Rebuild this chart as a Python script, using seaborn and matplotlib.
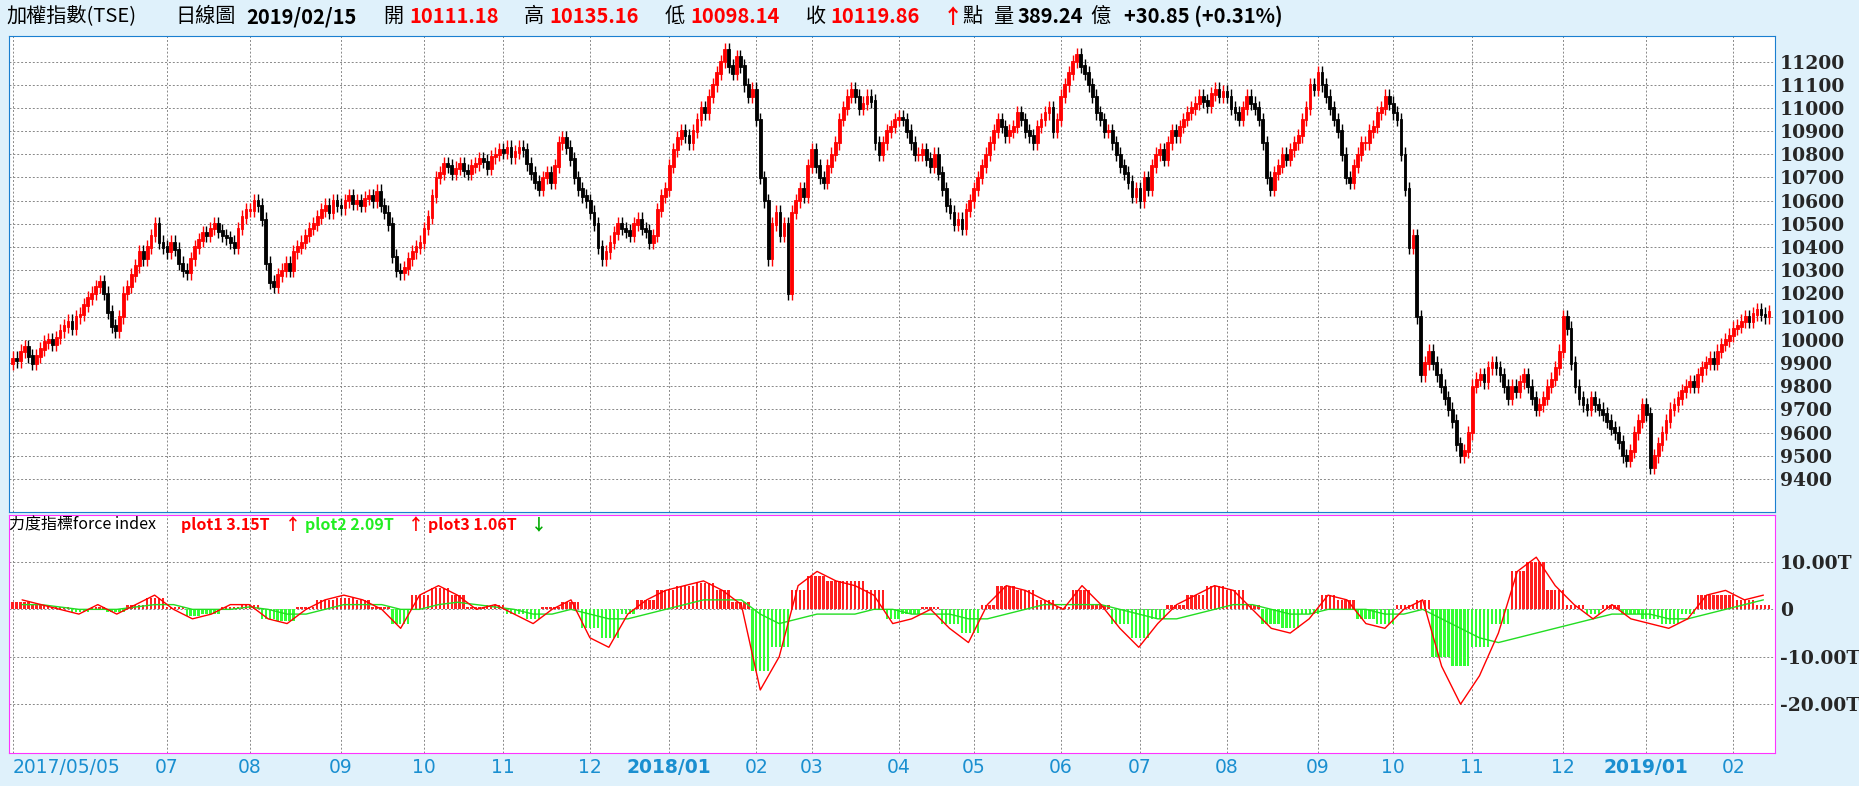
import numpy as np
import pandas as pd
import matplotlib
matplotlib.use("Agg")
import matplotlib.pyplot as plt
import seaborn as sns

# ---------------------------------------------------------------------------
# Data
# ---------------------------------------------------------------------------
month_names = ["2017/05/05", "06", "07", "08", "09", "10", "11", "12", "2018/01", "02", "03", "04",
               "05", "06", "07", "08", "09", "10", "11", "12", "2019/01", "02"]
month_closes = [
    [9920, 9910, 9950, 9970, 9930, 9900, 9930, 9960, 9990, 10000, 9980, 10010, 10040, 10060, 10080, 10050, 10100, 10110],
    [10150, 10180, 10200, 10230, 10250, 10200, 10120, 10060, 10040, 10100, 10200, 10230, 10280, 10320, 10380, 10350, 10400, 10450, 10500, 10420, 10400],
    [10380, 10420, 10390, 10330, 10300, 10290, 10350, 10400, 10430, 10460, 10450, 10480, 10500, 10470, 10450, 10440, 10420, 10400, 10480, 10530, 10560],
    [10560, 10600, 10580, 10520, 10330, 10250, 10230, 10280, 10300, 10330, 10300, 10380, 10400, 10420, 10450, 10480, 10500, 10530, 10560, 10580, 10550, 10600, 10580],
    [10570, 10600, 10620, 10590, 10600, 10580, 10610, 10620, 10600, 10640, 10580, 10550, 10500, 10360, 10300, 10290, 10310, 10350, 10380, 10400, 10420],
    [10480, 10530, 10620, 10700, 10720, 10760, 10750, 10720, 10740, 10760, 10730, 10720, 10750, 10760, 10780, 10770, 10740, 10790, 10800, 10820],
    [10810, 10830, 10790, 10810, 10830, 10820, 10760, 10720, 10680, 10650, 10700, 10720, 10680, 10750, 10850, 10870, 10830, 10780, 10700, 10650, 10620, 10600],
    [10550, 10500, 10400, 10350, 10380, 10420, 10460, 10500, 10480, 10470, 10450, 10500, 10520, 10480, 10470, 10420, 10450, 10560, 10620, 10650],
    [10750, 10820, 10870, 10900, 10880, 10850, 10900, 10950, 11000, 10980, 11050, 11100, 11150, 11200, 11250, 11180, 11150, 11220, 11180, 11100, 11050, 11080],
    [10950, 10700, 10600, 10350, 10500, 10550, 10450, 10500, 10200, 10550, 10600, 10650, 10620, 10750],
    [10820, 10750, 10700, 10680, 10750, 10800, 10850, 10950, 11000, 11050, 11080, 11050, 11000, 11020, 11050, 11030, 10850, 10800, 10850, 10900, 10920, 10950],
    [10960, 10950, 10900, 10850, 10800, 10800, 10820, 10780, 10750, 10800, 10720, 10650, 10580, 10550, 10500, 10520, 10480, 10560, 10600],
    [10650, 10700, 10750, 10800, 10850, 10900, 10950, 10920, 10880, 10900, 10920, 10980, 10950, 10900, 10880, 10850, 10920, 10950, 10980, 11000, 10900, 10950],
    [11050, 11100, 11150, 11200, 11230, 11180, 11150, 11100, 11050, 10980, 10950, 10900, 10900, 10850, 10800, 10750, 10720, 10680, 10620, 10650],
    [10600, 10700, 10650, 10750, 10800, 10820, 10780, 10850, 10900, 10880, 10920, 10950, 10980, 11000, 11020, 11050, 11030, 11010, 11060, 11080, 11050, 11070],
    [11050, 11000, 10980, 10950, 11000, 11050, 11020, 11000, 10950, 10850, 10700, 10650, 10720, 10750, 10800, 10780, 10820, 10850, 10880, 10950, 11000, 11100, 11080],
    [11150, 11100, 11050, 11000, 10950, 10900, 10800, 10700, 10680, 10750, 10800, 10850, 10850, 10900, 10920, 10980, 11000, 11050, 11020],
    [10980, 10950, 10800, 10650, 10400, 10450, 10100, 9850, 9900, 9950, 9900, 9850, 9800, 9750, 9700, 9650, 9550, 9500, 9520, 9600],
    [9800, 9830, 9850, 9820, 9880, 9900, 9880, 9850, 9800, 9750, 9800, 9780, 9820, 9850, 9800, 9750, 9700, 9720, 9750, 9800, 9830, 9880, 9950],
    [10100, 10050, 9900, 9800, 9750, 9720, 9700, 9750, 9720, 9700, 9680, 9650, 9620, 9600, 9560, 9500, 9480, 9520, 9600, 9650, 9720],
    [9680, 9450, 9500, 9550, 9600, 9650, 9700, 9720, 9750, 9780, 9800, 9820, 9800, 9850, 9880, 9900, 9920, 9900, 9950, 9980, 10000, 10020],
    [10050, 10060, 10080, 10100, 10080, 10111, 10130, 10110, 10100, 10120],
]

# weekly force-index values (T)
plot1_weekly = [1.5, 1, 0.5, -0.5, 0.5, -0.5, 1, 2.5, 0.5, -1.5, -1, 0.5, 1, -2, -2.5, 0.5, 2,
                2.5, 2, 0.5, -3, 3, 4.5, 3, 0.5, 1, -1, -2, 0.5, 1.5, -4, -6, -1, 2,
                4, 5, 5.5, 4, 1.5, -13, -8, 4, 7, 6, 6, 4, -2, -1, 0.5, -3, -5,
                1, 5, 4, 2, 0.5, 4, 1, -3, -6, -2, 1, 3, 5, 4, 1, -3, -4, -1, 3,
                2, -2, -3, 1, 2, -10, -12, -8, -3, 8, 10, 4, 1, -1, 1, -1, -2, -3,
                -1, 3, 3, 2, 1]
plot3_weekly = [2, 1, 0, -1, 1, -1, 1, 3, 0, -2, -1, 1, 1, -2, -3, 0, 2,
                3, 2, 0, -4, 3, 5, 3, 0, 1, -1, -3, 0, 2, -6, -8, -1, 2,
                4, 5, 6, 4, 1, -17, -10, 5, 8, 6, 5, 3, -3, -2, 0, -4, -7,
                1, 5, 4, 2, 0, 5, 1, -4, -8, -3, 1, 3, 5, 4, 0, -4, -5, -2, 3,
                2, -3, -4, 0, 2, -12, -20, -14, -5, 8, 11, 5, 1, -2, 1, -2, -3, -4,
                -2, 3, 4, 2, 3]
plot2_weekly = [1, 1, 0.5, 0, 0, 0, 0.5, 1, 1, 0, 0, 0, 0.5, 0, -1, -1, 0,
                1, 1, 1, 0, 0, 1, 1.5, 1, 0.5, 0, -1, -1, 0, -1, -2, -2, -1,
                0, 1, 2, 2, 2, -1, -3, -2, -1, -1, -1, 0, 0, -1, -1, -1, -2,
                -2, -1, 0, 1, 1, 1, 1, 0, -1, -2, -2, -1, 0, 1, 1, 0, -1, -1, 0,
                0, 0, -1, -1, 0, -2, -4, -6, -7, -6, -5, -4, -3, -2, -1, -1, -1, -2,
                -2, -1, 0, 1, 2]

price_ticks = list(range(9400, 11201, 100))
force_ticks = [10, 0, -10, -20]
force_labels = ["10.00T", "0", "-10.00T", "-20.00T"]

# ---------------------------------------------------------------------------
# Build series
# ---------------------------------------------------------------------------
close = np.array([c for m in month_closes for c in m], dtype=float)
n = len(close)
opn = np.concatenate([[9900], close[:-1]])
month_start = np.cumsum([0] + [len(m) for m in month_closes[:-1]])

nw = min(len(plot1_weekly), len(plot2_weekly), len(plot3_weekly))
idx = (np.arange(n) * nw / n).astype(int)
fi1 = np.array(plot1_weekly[:nw])[idx]
wk_x = (np.arange(nw) + 0.5) * n / nw
df_lines = pd.DataFrame({"x": np.concatenate([wk_x, wk_x]),
                         "v": plot2_weekly[:nw] + plot3_weekly[:nw],
                         "s": ["plot2"] * nw + ["plot3"] * nw})

# ---------------------------------------------------------------------------
# Plot
# ---------------------------------------------------------------------------
sns.set_style("white")
plt.rcParams["font.family"] = ["Noto Sans CJK TC", "DejaVu Sans"]

W, H = 1568, 663
fig = plt.figure(figsize=(18.59, 7.86), dpi=100, facecolor="#dff1fb")
ax = fig.add_axes([8 / W, 1 - 432 / H, 1489 / W, 402 / H])
ax2 = fig.add_axes([8 / W, 1 - 635 / H, 1489 / W, 201 / H])

up = close >= opn
col = np.where(up, "#ff0000", "#000000")
hi = np.maximum(opn, close) + 30
lo = np.minimum(opn, close) - 30
x = np.arange(n)
ax.vlines(x, lo, hi, colors=col, linewidth=1)
ax.bar(x, np.abs(close - opn) + 6, bottom=np.minimum(opn, close) - 3, width=0.7,
       color=col, edgecolor=col, linewidth=0.6)
ax.set_ylim(9257, 11312)

ax2.bar(x, fi1, width=0.6, color=np.where(fi1 >= 0, "#ff2020", "#33ff33"), linewidth=0)
sns.lineplot(data=df_lines, x="x", y="v", hue="s", palette={"plot2": "#22dd22", "plot3": "#ff0000"},
             linewidth=1, legend=False, ax=ax2)
ax2.set_ylim(-30.25, 20)

for a in (ax, ax2):
    a.set_xlim(-0.8, n + 0.5)
    a.set_facecolor("white")
    a.set_xticks(month_start[[i for i in range(len(month_start)) if i != 1]])
    a.grid(True, color="#888888", linestyle=(0, (2, 2)), linewidth=0.7)
    a.tick_params(length=0)
    a.set_xlabel("")
    a.set_ylabel("")
    a.yaxis.tick_right()

for s in ax.spines.values():
    s.set_color("#1a7fd0")
for s in ax2.spines.values():
    s.set_color("#ff33ff")

ax.set_yticks(price_ticks)
ax.set_yticklabels([str(t) for t in price_ticks], fontsize=13.5, fontweight="bold", family="DejaVu Serif")
ax.set_xticklabels([])
ax2.set_yticks(force_ticks)
ax2.set_yticklabels(force_labels, fontsize=13.5, fontweight="bold", family="DejaVu Serif")
shown = [m for i, m in enumerate(month_names) if i != 1]
ax2.set_xticklabels(shown, fontsize=13.5, color="#1a8fd0", family="DejaVu Sans")
for t in ax2.get_xticklabels():
    if t.get_text() in ("2018/01", "2019/01"):
        t.set_fontweight("bold")
ax2.get_xticklabels()[0].set_horizontalalignment("left")

# header
def hdr(px, s, color="black", bold=False, size=14.5):
    fig.text(px / W, 1 - 14 / H, s, color=color, fontsize=size, va="center",
             fontweight="bold" if bold else "normal")

hdr(5, "加權指數(TSE)")
hdr(148, "日線圖")
hdr(208, "2019/02/15", bold=True)
hdr(323, "開")
hdr(345, "10111.18", "#ff0000", True)
hdr(442, "高")
hdr(463, "10135.16", "#ff0000", True)
hdr(561, "低")
hdr(582, "10098.14", "#ff0000", True)
hdr(680, "收")
hdr(700, "10119.86", "#ff0000", True)
hdr(795, "↑", "#ff0000", True)
hdr(812, "點")
hdr(838, "量")
hdr(858, "389.24", bold=True)
hdr(920, "億")
hdr(948, "+30.85 (+0.31%)", bold=True)

# force legend
def leg(px, s, color="black", bold=False):
    fig.text(px / W, 1 - 443 / H, s, color=color, fontsize=11.5, va="center",
             fontweight="bold" if bold else "normal")

leg(8, "力度指標force index")
leg(153, "plot1 3.15T", "#ff0000", True)
leg(240, "↑", "#ff0000", True)
leg(257, "plot2 2.09T", "#22ee22", True)
leg(344, "↑", "#ff0000", True)
leg(361, "plot3 1.06T", "#ff0000", True)
leg(448, "↓", "#00aa00", True)

fig.savefig("out.png", dpi=100, facecolor=fig.get_facecolor())
